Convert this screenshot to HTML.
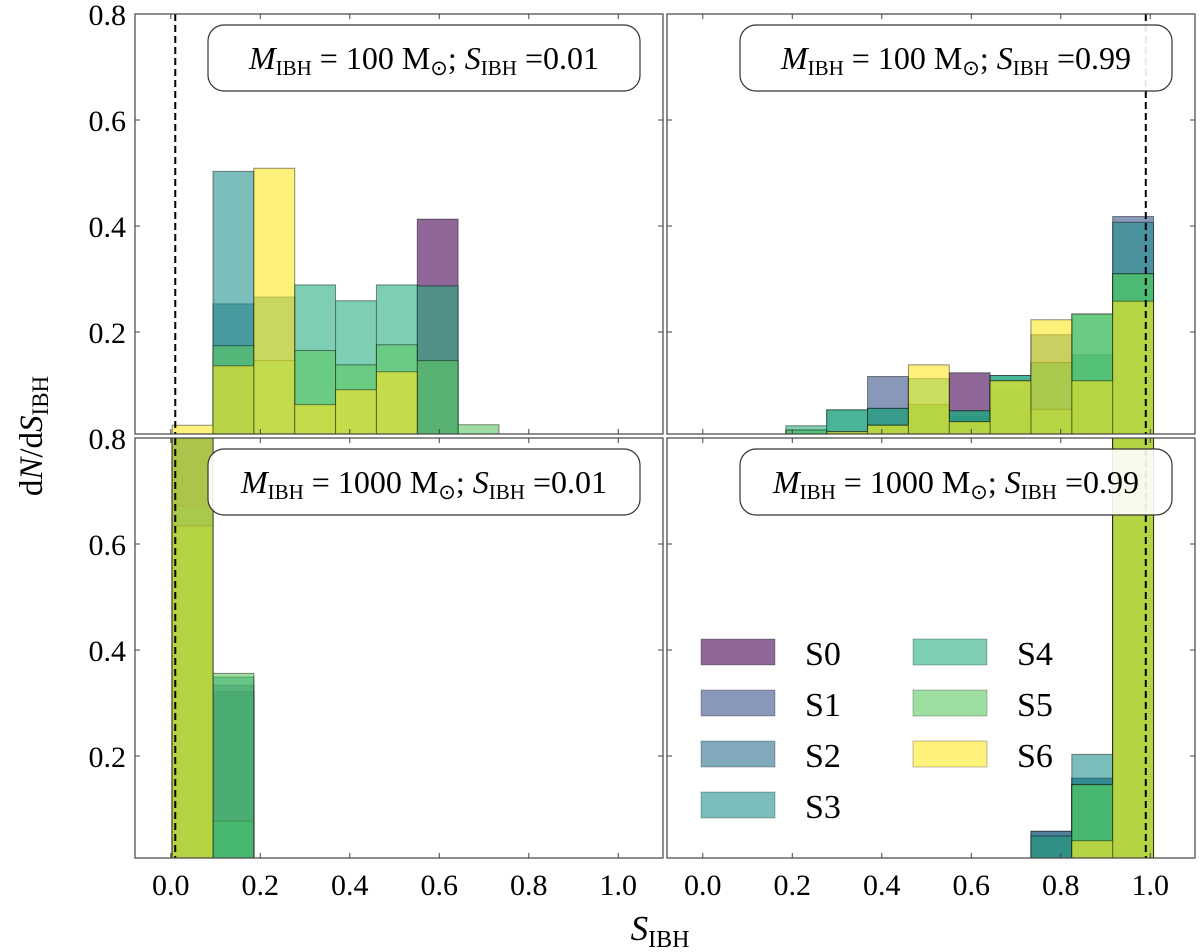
<!DOCTYPE html>
<html><head><meta charset="utf-8"><style>
body{margin:0;background:#fff;}
svg{display:block;font-family:"Liberation Serif",serif;}
</style></head><body>
<svg id="chart" width="1200" height="952" viewBox="0 0 1200 952" xmlns="http://www.w3.org/2000/svg">
<defs>
<clipPath id="c0"><rect x="135" y="14" width="528" height="420"/></clipPath>
<clipPath id="c1"><rect x="667" y="14" width="528" height="420"/></clipPath>
<clipPath id="c2"><rect x="135" y="438" width="528" height="420"/></clipPath>
<clipPath id="c3"><rect x="667" y="438" width="528" height="420"/></clipPath>
</defs>
<g id="layer"></g>
<text transform="translate(42,436) rotate(-90)" text-anchor="middle" font-size="33">d<tspan font-style="italic">N</tspan>/d<tspan font-style="italic">S</tspan><tspan font-size="23" dy="6">IBH</tspan></text>
<text x="660" y="940" text-anchor="middle" font-size="35"><tspan font-style="italic">S</tspan><tspan font-size="24" dy="7">IBH</tspan></text>
</svg>
<script>
const series = ["S0","S1","S2","S3","S4","S5","S6"];
const colors = ["#440154","#3b528b","#2c728e","#21918c","#28ae80","#5ec962","#fde725"];
const binStart = 0.003, binWidth = 0.0913;
const xTicks = [0.0,0.2,0.4,0.6,0.8,1.0];
const yTicks = [0.2,0.4,0.6,0.8];
// panel 0: M=100, S=0.01
const p0S0 = [0,0,0,0,0,0,0.413,0,0,0,0];
const p0S1 = [0,0,0,0,0,0,0,0,0,0,0];
const p0S2 = [0,0.253,0,0,0,0,0,0,0,0,0];
const p0S3 = [0,0.503,0.266,0,0,0,0,0,0,0,0];
const p0S4 = [0,0,0,0.289,0.259,0.289,0.287,0,0,0,0];
const p0S5 = [0,0.174,0.146,0.165,0.138,0.176,0.146,0.025,0,0,0];
const p0S6 = [0.024,0.136,0.509,0.063,0.091,0.125,0,0,0,0,0];
// panel 1: M=100, S=0.99
const p1S0 = [0,0,0,0,0,0,0.123,0,0,0,0];
const p1S1 = [0,0,0,0,0.116,0.05,0.03,0.05,0.14,0.108,0.418];
const p1S2 = [0,0,0,0.012,0.056,0.06,0.04,0.09,0.195,0.108,0];
const p1S3 = [0,0,0.015,0.053,0.024,0.06,0.05,0.118,0.142,0.157,0.407];
const p1S4 = [0,0,0.023,0.053,0.056,0.112,0.052,0.118,0.142,0.234,0.31];
const p1S5 = [0,0,0.015,0.012,0.024,0.063,0.031,0.108,0.054,0.234,0.31];
const p1S6 = [0,0,0,0.012,0.024,0.138,0.031,0.108,0.223,0.108,0.258];
// panel 2: M=1000, S=0.01
const p2S0 = [0.9,0.321,0,0,0,0,0,0,0,0,0];
const p2S1 = [0.9,0.334,0,0,0,0,0,0,0,0,0];
const p2S2 = [0.9,0.321,0,0,0,0,0,0,0,0,0];
const p2S3 = [0.672,0.349,0,0,0,0,0,0,0,0,0];
const p2S4 = [0.9,0.077,0,0,0,0,0,0,0,0,0];
const p2S5 = [0.634,0.356,0,0,0,0,0,0,0,0,0];
const p2S6 = [0.9,0,0,0,0,0,0,0,0,0,0];
// panel 3: M=1000, S=0.99
const p3S0 = [0,0,0,0,0,0,0,0,0.049,0.146,0.9];
const p3S1 = [0,0,0,0,0,0,0,0,0.058,0.158,0.9];
const p3S2 = [0,0,0,0,0,0,0,0,0.058,0.158,0.9];
const p3S3 = [0,0,0,0,0,0,0,0,0,0.203,0.9];
const p3S4 = [0,0,0,0,0,0,0,0,0.049,0.146,0.9];
const p3S5 = [0,0,0,0,0,0,0,0,0,0.146,0.9];
const p3S6 = [0,0,0,0,0,0,0,0,0,0.04,0.9];
const panelData = [[p0S0,p0S1,p0S2,p0S3,p0S4,p0S5,p0S6],[p1S0,p1S1,p1S2,p1S3,p1S4,p1S5,p1S6],[p2S0,p2S1,p2S2,p2S3,p2S4,p2S5,p2S6],[p3S0,p3S1,p3S2,p3S3,p3S4,p3S5,p3S6]];
const masses = ["100","100","1000","1000"];
const spins = ["0.01","0.99","0.01","0.99"];
const spinVals = [0.01,0.99,0.01,0.99];

const NS="http://www.w3.org/2000/svg";
const layer=document.getElementById('layer');
function mk(tag,attrs,parent){const e=document.createElementNS(NS,tag);for(const k in attrs)e.setAttribute(k,attrs[k]);(parent||layer).appendChild(e);return e;}
const panels=[{x0:135,y0:14},{x0:667,y0:14},{x0:135,y0:438},{x0:667,y0:438}];
const W=528,H=420,XMIN=-0.08,XMAX=1.1,YMAX=0.8,SCALE=530;

panels.forEach((p,pi)=>{
  const xs=v=>p.x0+(v-XMIN)/(XMAX-XMIN)*W;
  const ys=v=>p.y0+(YMAX-v)*SCALE;
  const g=mk('g',{'clip-path':'url(#c'+pi+')'});
  
  
  panelData[pi].forEach((vals,si)=>{
    let d='';const base=p.y0+H+2;
    vals.forEach((v,b)=>{
      if(v<=0)return;
      const xa=xs(binStart+b*binWidth),xb=xs(binStart+(b+1)*binWidth);
      d+=`M${xa},${base}L${xa},${ys(v)}L${xb},${ys(v)}L${xb},${base}Z`;
    });
    if(!d)return;
    const path=mk('path',{d:d,fill:colors[si],'fill-opacity':0.6,stroke:'#000','stroke-opacity':0.45,'stroke-width':1},g);
    
    
  });
  const dl=mk('line',{x1:xs(spinVals[pi]),x2:xs(spinVals[pi]),y1:p.y0,y2:p.y0+H,stroke:'#000','stroke-width':2,'stroke-dasharray':'7,4'},g);
  
  
  const fr=mk('rect',{x:p.x0,y:p.y0,width:W,height:H,fill:'none',stroke:'#444','stroke-width':1.2});
  
  
  xTicks.forEach(t=>{
    const x=xs(t);
    mk('line',{x1:x,x2:x,y1:p.y0+H,y2:p.y0+H-5,stroke:'#444','stroke-width':1});
    mk('line',{x1:x,x2:x,y1:p.y0,y2:p.y0+5,stroke:'#444','stroke-width':1});
    if(pi>=2){const tl=mk('text',{x:x,y:895,'text-anchor':'middle','font-size':30});tl.textContent=t.toFixed(1);
      
      }
  });
  yTicks.forEach(t=>{
    const y=ys(t);
    mk('line',{x1:p.x0,x2:p.x0+5,y1:y,y2:y,stroke:'#444','stroke-width':1});
    mk('line',{x1:p.x0+W,x2:p.x0+W-5,y1:y,y2:y,stroke:'#444','stroke-width':1});
    if(pi%2===0){const tl=mk('text',{x:126,y:y+11,'text-anchor':'end','font-size':30});tl.textContent=t.toFixed(1);
      
      }
  });
  const bx=p.x0+73;
  const box=mk('rect',{x:bx,y:p.y0+11,width:432,height:66,rx:16,fill:'#fff','fill-opacity':0.9,stroke:'#333','stroke-width':1.2});
  
  
  const t=mk('text',{x:bx+216,y:p.y0+55,'text-anchor':'middle','font-size':32});
  
  
  t.innerHTML=`<tspan font-style="italic">M</tspan><tspan font-size="21" dy="6">IBH</tspan><tspan dy="-6"> = ${masses[pi]} M</tspan><tspan font-size="21" dy="6">⊙</tspan><tspan dy="-6">; </tspan><tspan font-style="italic">S</tspan><tspan font-size="21" dy="6">IBH</tspan><tspan dy="-6"> =${spins[pi]}</tspan>`;
});

// legend
series.forEach((s,i)=>{
  const col=i<4?0:1,row=i<4?i:i-4;
  const x=701+col*212,y=639+row*51;
  const r=mk('rect',{x:x,y:y,width:74,height:26,fill:colors[i],'fill-opacity':0.6,stroke:'#000','stroke-opacity':0.25,'stroke-width':1});
  
  
  const t=mk('text',{x:x+104,y:y+26,'font-size':34});
  t.textContent=s;
  
  
});
</script>
</body></html>
